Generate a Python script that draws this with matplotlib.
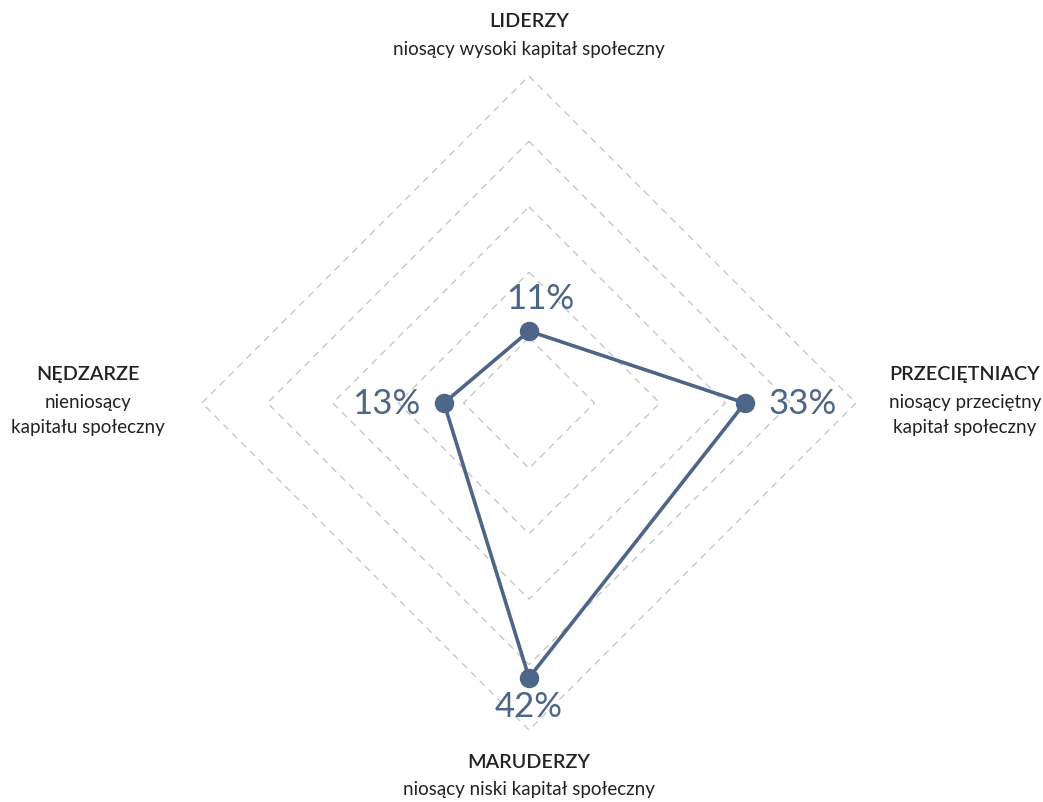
import matplotlib.pyplot as plt
import numpy as np

plt.rcParams['font.family'] = ['Lato', 'DejaVu Sans']

categories = ["LIDERZY", "PRZECIĘTNIACY", "MARUDERZY", "NĘDZARZE"]
subtitles = ["niosący wysoki kapitał społeczny",
             "niosący przeciętny\nkapitał społeczny",
             "niosący niski kapitał społeczny",
             "nieniosący\nkapitału społeczny"]
values = [11, 33, 42, 13]
grid_levels = [10, 20, 30, 40, 50]

LINE = "#4d6587"
TEXT = "#222222"
GRID = "#c8c8c8"

# angles: top, right, bottom, left
angles = np.deg2rad([90, 0, -90, 180])
cx, cy = np.cos(angles), np.sin(angles)

fig = plt.figure(figsize=(10.43, 8.02), dpi=100)
ax = fig.add_axes([0, 0, 1, 1])
scale = 327 / 50
ax.set_xlim(-529 / scale, 514 / scale)
ax.set_ylim(-399 / scale, 403 / scale)
ax.set_aspect('equal')
ax.axis('off')

for r in grid_levels:
    gx = np.append(cx * r, cx[0] * r)
    gy = np.append(cy * r, cy[0] * r)
    ax.plot(gx, gy, color=GRID, lw=1, ls=(0, (5, 4)), zorder=1)

vx = np.array(values) * cx
vy = np.array(values) * cy
ax.plot(np.append(vx, vx[0]), np.append(vy, vy[0]), color=LINE, lw=2.6,
        zorder=3, solid_joinstyle='round')
ax.plot(vx, vy, 'o', color=LINE, ms=13, zorder=4)

# value labels
offsets = [(8, 23), (17, -1), (0, -21), (-17, -1)]
aligns = ["center", "left", "center", "right"]
for v, x, y, (dx, dy), ha in zip(values, vx, vy, offsets, aligns):
    ax.annotate(f"{v}%", (x, y), xytext=(dx, dy), textcoords='offset points',
                ha=ha, va='center', fontsize=25, color=LINE, zorder=5)

# category labels (positions in pixels from the center)
label_pos = [(0, 381), (436, 28), (0, -359), (-441, 28)]
for cat, sub, (px, py) in zip(categories, subtitles, label_pos):
    x, y = px / scale, py / scale
    ax.text(x, y, cat, ha='center', va='center', fontsize=14.2,
            fontweight='semibold', color=TEXT)
    ax.text(x, y - 19 / scale, sub, ha='center', va='top', fontsize=13.5,
            color=TEXT, linespacing=1.6)

fig.savefig("out.png", dpi=100)
